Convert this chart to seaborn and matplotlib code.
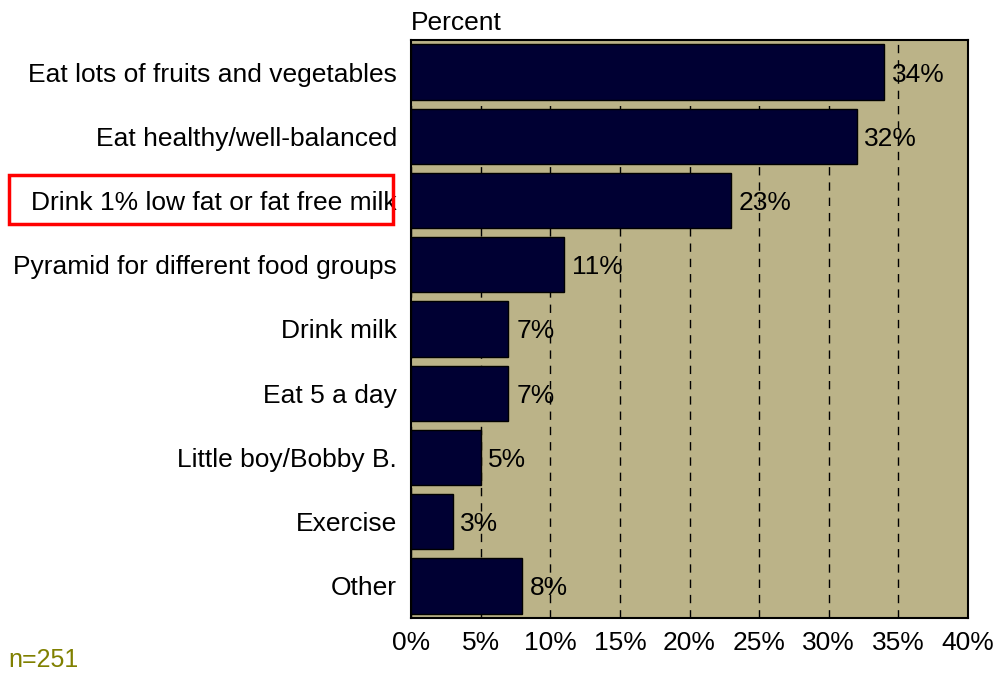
import matplotlib
matplotlib.use("Agg")
import matplotlib.pyplot as plt
import matplotlib.patches as mpatches
import seaborn as sns
import pandas as pd

categories = ["Eat lots of fruits and vegetables", "Eat healthy/well-balanced",
              "Drink 1% low fat or fat free milk", "Pyramid for different food groups",
              "Drink milk", "Eat 5 a day", "Little boy/Bobby B.", "Exercise", "Other"]
values = [34, 32, 23, 11, 7, 7, 5, 3, 8]
xticks = [0, 5, 10, 15, 20, 25, 30, 35, 40]

sns.set_theme(style="white")
plt.rcParams['font.family'] = ['Liberation Sans', 'DejaVu Sans']

df = pd.DataFrame({"cat": categories, "val": values})

FS = 19

fig = plt.figure(figsize=(9.96, 6.73), dpi=100)
ax = fig.add_axes([411/996, 1 - 618/673, (968-411)/996, (618-40)/673])
ax.set_facecolor("#BBB388")

sns.barplot(data=df, x="val", y="cat", orient="h", color="#000033",
            edgecolor="black", linewidth=1, width=0.86, saturation=1, ax=ax, zorder=3)

ax.set_xlim(0, 40)
ax.set_xticks(xticks)
ax.set_xticklabels([f"{t}%" for t in xticks], fontsize=FS, color="black")
ax.tick_params(axis='y', labelsize=FS, colors="black", length=0, pad=10)
ax.tick_params(axis='x', length=0, pad=9)
ax.set_xlabel("")
ax.set_ylabel("")
ax.xaxis.grid(True, linestyle=(0, (6, 5)), color="black", linewidth=1, zorder=1)
ax.set_axisbelow(True)
for s in ax.spines.values():
    s.set_visible(True)
    s.set_color("black")
    s.set_linewidth(1.5)

for i, v in enumerate(values):
    ax.text(v + 0.55, i, f"{v}%", va="center_baseline", ha="left", fontsize=FS,
            color="black", zorder=5)

ax.set_title("Percent", loc="left", fontsize=FS, pad=7, color="black")

fig.text(8/996, 1 - 660/673, "n=251", fontsize=18, color="#808000", va="center", ha="left")

rect = mpatches.Rectangle((9/996, 1 - 224/673), (393-9)/996, (224-175)/673,
                          transform=fig.transFigure, fill=False, edgecolor="#FF0000",
                          linewidth=2.5, zorder=10)
fig.patches.append(rect)

fig.savefig("out.png", dpi=100)
